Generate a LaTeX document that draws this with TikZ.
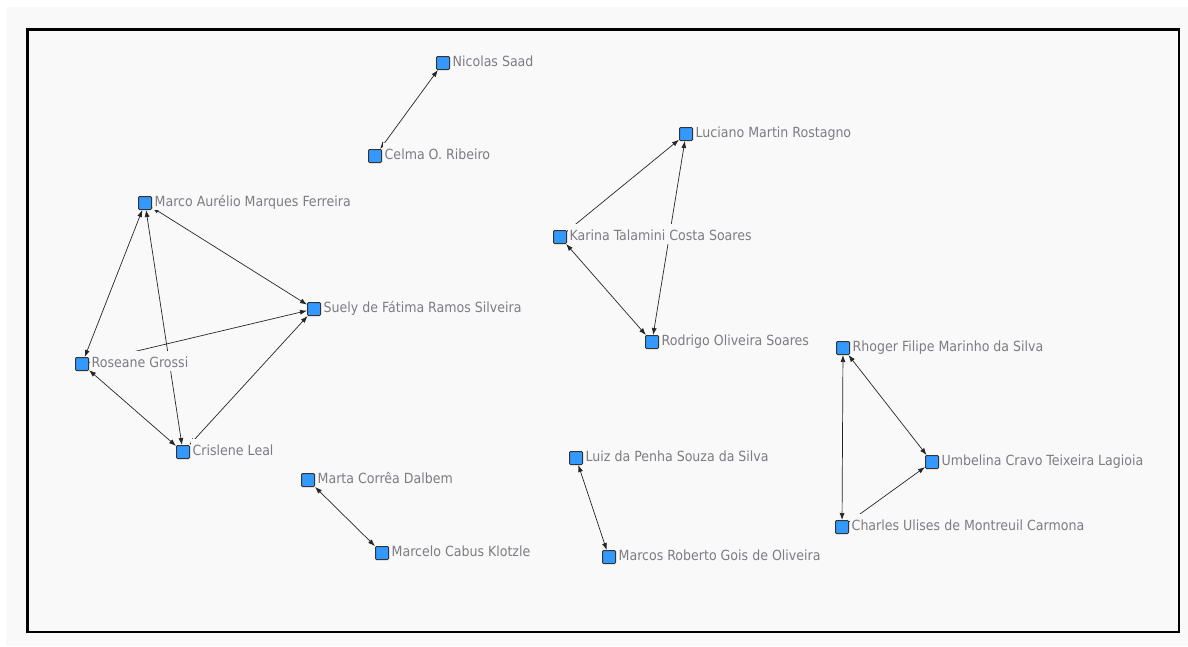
\documentclass[tikz,border=0pt]{standalone}
\usepackage{fontspec}
\setmainfont{DejaVu Sans Condensed}
\usetikzlibrary{arrows.meta}
\pgfdeclarelayer{bg}
\pgfdeclarelayer{edges}
\pgfsetlayers{bg,edges,main}
\definecolor{canvas}{HTML}{F9F9F9}
\definecolor{nodeblue}{HTML}{3399FF}
\definecolor{labgray}{HTML}{7C7C82}
\tikzset{
  >={Latex[length=7pt,width=5pt]},
  actor/.style={rectangle, minimum size=13pt, inner sep=0pt, draw=black!80, line width=1pt, fill=nodeblue, rounded corners=1pt},
  lab/.style={anchor=west, fill=canvas, text=labgray, font=\fontsize{14}{16}\selectfont, inner xsep=1.5pt, inner ysep=1.5pt, text height=15pt, text depth=2pt},
  tie/.style={line width=0.7pt, draw=black!85},
}
\newcommand{\actor}[4]{%
  \node[actor] (#1) at (#2,#3) {};
  \node[lab] (#1L) at ([xshift=1pt,yshift=3.5pt]#1.east) {#4};
}
\begin{document}
\begin{tikzpicture}[x=1pt,y=-1pt]
\useasboundingbox (0,0) rectangle (1188,646);
\begin{pgfonlayer}{bg}
  \fill[white] (0,0) rectangle (1188,646);
  \fill[canvas] (6,7) rectangle (1188,646);
  \draw[line width=2.6pt] (27.5,29.5) rectangle (1179,632);
\end{pgfonlayer}

\actor{nic}{443}{63}{Nicolas Saad}
\actor{cel}{375}{156}{Celma O. Ribeiro}
\actor{mar}{145}{203}{Marco Aurélio Marques Ferreira}
\actor{sue}{314}{309}{Suely de Fátima Ramos Silveira}
\actor{ros}{82}{364}{Roseane Grossi}
\actor{cri}{183}{452}{Crislene Leal}
\actor{luc}{686}{134}{Luciano Martin Rostagno}
\actor{kar}{560}{237}{Karina Talamini Costa Soares}
\actor{rod}{652}{342}{Rodrigo Oliveira Soares}
\actor{rho}{843}{348}{Rhoger Filipe Marinho da Silva}
\actor{umb}{932}{462}{Umbelina Cravo Teixeira Lagioia}
\actor{cha}{842}{527}{Charles Ulises de Montreuil Carmona}
\actor{mta}{308}{480}{Marta Corrêa Dalbem}
\actor{mcl}{382}{553}{Marcelo Cabus Klotzle}
\actor{lui}{576}{458}{Luiz da Penha Souza da Silva}
\actor{mro}{609}{557}{Marcos Roberto Gois de Oliveira}

\begin{pgfonlayer}{edges}
  \draw[tie,<->] (nic) -- (cel);
  \draw[tie,<->] (mar) -- (ros);
  \draw[tie,<->] (mar) -- (cri);
  \draw[tie,<->] (mar) -- (sue);
  \draw[tie,->] (ros) -- (sue);
  \draw[tie,<->] (ros) -- (cri);
  \draw[tie,<->] (cri) -- (sue);
  \draw[tie,->] (kar) -- (luc);
  \draw[tie,<->] (luc) -- (rod);
  \draw[tie,<->] (kar) -- (rod);
  \draw[tie,<->] (rho) -- (umb);
  \draw[tie,<->] (rho) -- (cha);
  \draw[tie,->] (cha) -- (umb);
  \draw[tie,<->] (mta) -- (mcl);
  \draw[tie,<->] (lui) -- (mro);
\end{pgfonlayer}
\end{tikzpicture}
\end{document}
